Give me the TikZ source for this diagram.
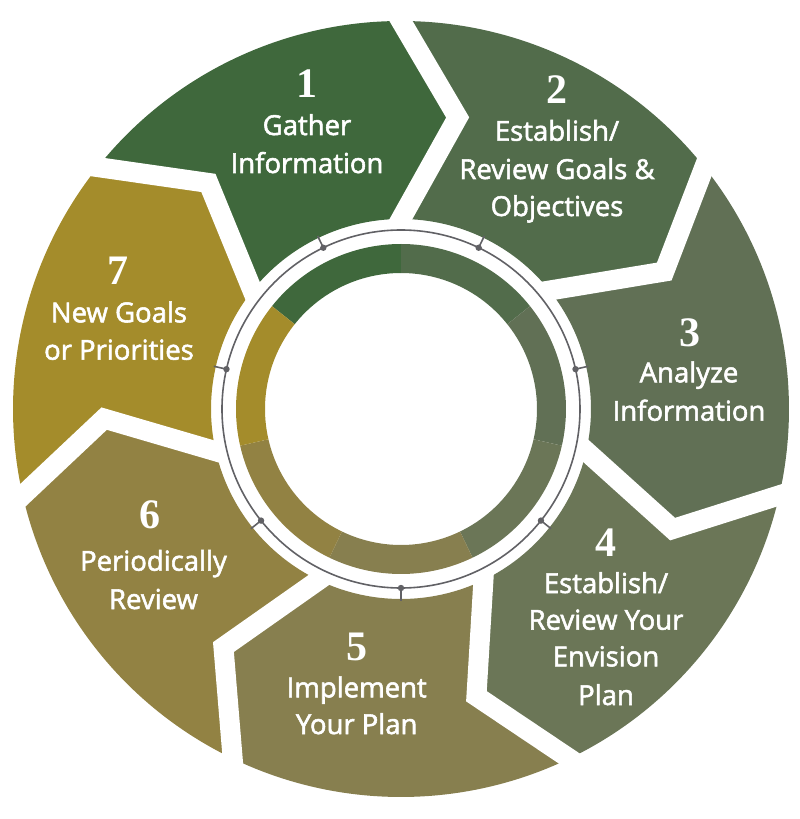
\documentclass[tikz,border=0pt]{standalone}
\usepackage{fontspec}
\newfontfamily\lblfont{Open Sans}[FakeBold=2]
\newfontfamily\numfont{Liberation Serif}
\definecolor{c1}{HTML}{3F683C}
\definecolor{c2}{HTML}{526C4B}
\definecolor{c3}{HTML}{617055}
\definecolor{c4}{HTML}{6B7657}
\definecolor{c5}{HTML}{877F4F}
\definecolor{c6}{HTML}{928243}
\definecolor{c7}{HTML}{A48C2B}
\definecolor{ringgray}{HTML}{616165}
\begin{document}
\begin{tikzpicture}[x=1pt,y=1pt,
  lbl/.style={text=white, font=\lblfont\fontsize{27.5}{37.5}\selectfont, anchor=base, inner sep=0pt},
  num/.style={text=white, font=\numfont\bfseries\fontsize{42}{42}\selectfont, anchor=center, inner sep=0pt},
  gapline/.style={white, line width=20pt, line join=miter, shorten <=-12pt, shorten >=-14pt},
  ringline/.style={ringgray, line width=1.6pt}]
\useasboundingbox (-401,-410) rectangle (399,409);
% chevron segments and inner ring sectors
\foreach \i/\c in {1/c1,2/c2,3/c3,4/c4,5/c5,6/c6,7/c7} {
  \pgfmathsetmacro\a{141.4286-51.4286*(\i-1)}
  \pgfmathsetmacro\b{\a-51.4286}
  \pgfmathsetmacro\av{\a-11}
  \pgfmathsetmacro\bv{\b-11}
  \fill[\c] (\a:190) -- (\av:297) -- (\a:388) arc[start angle=\a, end angle=\b, radius=388pt]
    -- (\bv:297) -- (\b:190) arc[start angle=\b, end angle=\a, radius=190pt] -- cycle;
  \fill[\c] (\a:165) arc[start angle=\a, end angle=\b, radius=165pt]
    -- (\b:136) arc[start angle=\b, end angle=\a, radius=136pt] -- cycle;
}
% white gaps
\foreach \k in {0,...,6} {
  \pgfmathsetmacro\g{141.4286-51.4286*\k}
  \pgfmathsetmacro\gv{\g-11}
  \draw[gapline] (\g:190) -- (\gv:297) -- (\g:388);
}
% gray ring, ticks and dots
\draw[ringline] (0,0) circle[radius=179pt];
\foreach \i in {1,...,7} {
  \pgfmathsetmacro\m{115.7143-51.4286*(\i-1)}
  \draw[ringline] (\m:179) -- (\m:192);
  \fill[ringgray] (\m:179) circle[radius=3.2pt];
}
% numbers
\node[num] (n1) at (-94,325) {1};
\node[num] (n2) at (156,319) {2};
\node[num] (n3) at (288.5,76) {3};
\node[num] (n4) at (205,-134) {4};
\node[num] (n5) at (-44.3,-238) {5};
\node[num] (n6) at (-251.3,-105.5) {6};
\node[num] (n7) at (-283,138) {7};
% labels
\node[lbl] (l1a) at (-94,274) {Gather};
\node[lbl] (l1b) at (-94,236) {Information};
\node[lbl] (l2a) at (156,268.3) {Establish/};
\node[lbl] (l2b) at (156,230) {Review Goals \&};
\node[lbl] (l2c) at (156,193) {Objectives};
\node[lbl] (l3a) at (288,26.7) {Analyze};
\node[lbl] (l3b) at (288,-11.7) {Information};
\node[lbl] (l4a) at (205,-184) {Establish/};
\node[lbl] (l4b) at (205,-220.7) {Review Your};
\node[lbl] (l4c) at (205,-257.3) {Envision};
\node[lbl] (l4d) at (205,-296) {Plan};
\node[lbl] (l5a) at (-44.3,-288.3) {Implement};
\node[lbl] (l5b) at (-44.3,-325) {Your Plan};
\node[lbl] (l6a) at (-247.5,-161.7) {Periodically};
\node[lbl] (l6b) at (-247.5,-200) {Review};
\node[lbl] (l7a) at (-282,86.7) {New Goals};
\node[lbl] (l7b) at (-282,49.3) {or Priorities};
\end{tikzpicture}
\end{document}
